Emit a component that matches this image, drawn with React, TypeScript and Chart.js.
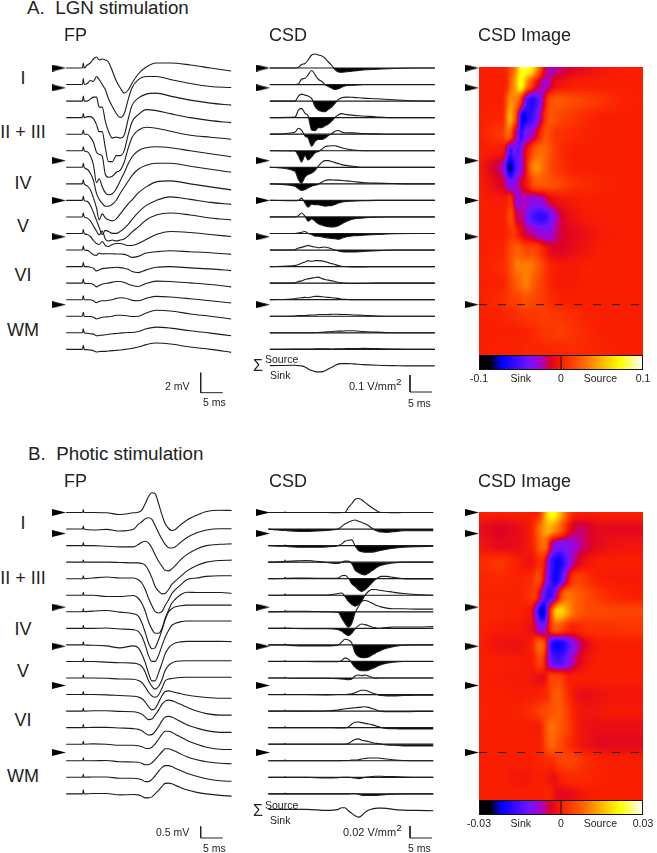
import React, { useEffect, useRef } from "react";
import { Chart, registerables } from "chart.js";

Chart.register(...registerables);

// ---------- DATA ----------
const layers = ["I", "II + III", "IV", "V", "VI", "WM"];
const arrowDepthsA = [0, 1.2, 5.6, 8, 10.2, 14.3];
const arrowDepthsB = [0, 1.27, 5.72, 8.08, 10.45, 14.5];

// A. field potential, unit 0.1 mV
const fpATimes = [-3.9, -0.2, 0, 0.2, 0.9, 1.6, 2.3, 3, 3.6, 4.3, 5, 5.7, 6.6, 7.5, 8.4, 9.3, 10.2, 11.1, 12.5, 14.3, 16.6, 19.8, 24.3, 28.9, 33.6];
const fpATraces = [
  [0, 0, 5, 0, 3, 5, 9, 11, 8, 9, 8, 6, -3, -13, -20, -25, -22, -15, -6, 1, 5, 5, 3, 0, -3],
  [0, 0, 6, 0, 1, 4, 3, 8, 5, 0, -5, -14, -22, -29, -33, -29, -15, -3, 5, 8, 8, 5, 1, -2, -3],
  [0, 0, 5, 0, 0, 2, 4, 4, -6, -6, -20, -30, -37, -36, -37, -34, -18, -4, 3, 7, 8, 5, 1, -2, -4],
  [0, 0, 4, 0, 1, 1, -1, -7, -14, -14, -30, -44, -44, -38, -38, -33, -17, -4, 3, 8, 7, 4, 0, -3, -5],
  [0, 0, 4, 0, 0, -3, -8, -18, -20, -22, -40, -43, -42, -38, -36, -28, -14, -3, 4, 7, 6, 3, -1, -3, -5],
  [0, 0, 4, 0, -1, -5, -14, -32, -28, -36, -42, -44, -43, -38, -30, -22, -13, -6, 0, 3, 4, 3, 0, -3, -6],
  [0, 0, 4, 0, -2, -6, -13, -26, -32, -36, -39, -39, -37, -33, -26, -20, -14, -8, -2, 2, 4, 4, 1, -2, -5],
  [0, 0, 4, 0, -2, -6, -14, -24, -36, -30, -34, -36, -37, -35, -30, -25, -20, -16, -9, -3, 2, 3, 0, -3, -6],
  [0, 0, 4, 0, -1, -5, -12, -20, -27, -34, -30, -31, -33, -33, -31, -28, -24, -19, -12, -5, 0, 3.5, 1, -2, -4],
  [0, 0, 4, 0, -1, -4, -9, -14, -18, -14, -22, -24, -23, -24, -23, -22, -19, -15, -10, -3, 2, 4, 2, -1, -3],
  [0, 0, 4, 0, -1, -3, -7, -10, -11, -8, -12, -13, -11, -10, -10, -11, -12, -12, -10, -6, -1, 2, 1, -1, -3],
  [0, 0, 4, 0, -0.3, -2.3, -4.7, -5.3, -3, -4, -3.7, -3.7, -3.7, -4, -4, -4.3, -5.7, -7.3, -6.3, -3, -1.7, -0.7, -1.7, -2.7, -4.3],
  [0, 0, 4, 0, 0, -0.7, -1.7, -4.3, -3.3, -2, -1.7, -1.3, -1, -0.7, -1, -1.7, -2.7, -5, -6, -3.3, -0.7, 0, -1.3, -2.3, -4],
  [0, 0, 4, 0, -0.3, -0.3, -1.3, -3.7, -2.3, -1, -0.3, 0, 1, 1.7, 1.7, 0.7, -1, -2.3, -3.3, -0.3, 2, 1.7, 0.3, -1.3, -3.7],
  [0, 0, 4, 0, 0, 0, -1, -3, -1.7, -1, -1, -0.5, 0, 1.3, 2, 1.7, 0.7, -0.7, -1, 1.3, 3.3, 2.7, 1, -1, -3.3],
  [0, 0, 4, 0, -0.3, -0.3, -1, -2.7, -2, -1, -0.7, -0.5, 0, 1, 1, 0.7, 0.3, -0.3, 0, 3.3, 6, 5.3, 2.3, 0, -2.7],
  [0, 0, 4, 0, -0.5, -1, -1.3, -3, -2.7, -2.3, -2, -1.5, -1, -0.7, -0.3, 0, 0.3, 0.3, 1.3, 4, 5.7, 4.7, 2, -0.3, -3],
  [0, 0, 4, 0, -0.3, -0.7, -1.3, -2.7, -2.3, -2, -2, -1.7, -1.3, -1, -0.7, 0, 0.3, 1, 2.3, 4.7, 6.3, 5.3, 2.3, 0, -3],
];

// A. current source density, unit 0.1/17 V/mm2
const csdATimes = [-3.9, 1.8, 2.6, 3.3, 4.1, 4.8, 5.6, 6.4, 7.1, 7.9, 8.6, 9.4, 10.2, 10.9, 11.7, 12.4, 13.6, 15.1, 17.3, 20.4, 24.2, 28.7, 33.6];
const csdATraces = [
  [0, 0, 0.7, 3.5, 4.5, 8, 13, 14, 13, 12, 10, 6, 2.5, -1.5, -4, -4.3, -3.7, -3, -2, -1.3, -0.5, 0, 0],
  [0, 0, 0.5, 5.3, 6.3, 9.7, 14, 9.7, 5.3, 3.3, 0, -2, -3.7, -5, -4.3, -2.7, -1, -0.7, 0, 0, 0, 0, 0],
  [0, 0, 5, 7, 6, 5, 2.7, -5.7, -9, -10.3, -10.7, -8.3, -5.7, -2.3, 1.7, 3.3, 4, 3.7, 3, 2.3, 1.3, 0.3, 0],
  [0, 0.5, 7.5, 9.3, 4.3, 1.7, -12.3, -13, -10, -10, -8.3, -6.3, -3.3, 0.3, 3, 4, 3, 2.3, 1.7, 0.7, 0, 0, 0],
  [0, 2, 6, 4, -2, -3.7, -12, -7, -5.3, -5.3, -4, -1.3, 0.7, 3, 3.7, 2.3, 1.3, 1.3, 0.7, 0.3, 0, 0, 0],
  [0, -0.3, -5, -11.3, -4.7, -9.3, -6, -2, -0.7, 1.3, 4, 4.7, 5, 5, 4, 3, 1.7, 0.7, 0, 0, 0, 0, 0],
  [0, -4, -12.3, -15.7, -9.7, -7.3, -5.7, -3, 1, 5, 6.7, 6.7, 5.7, 4.7, 3.7, 2.7, 1.7, 1, 0, 0, 0, 0, 0],
  [0, -2.3, -5, -6.7, -5.7, -4, -2.3, -1.3, -0.3, 1.7, 3.3, 4, 4, 3.7, 3.7, 3.3, 3, 2.3, 1.3, 0.7, 0.3, 0, 0],
  [0, -0.3, 0, 2.3, -2.7, -6.7, -3.7, -4.3, -4.3, -5, -5.7, -5.3, -5, -4, -2.7, -1.7, -1, -0.7, -0.3, 0, 0, 0, 0],
  [0, 0, 1.3, 4, 0.7, -4.3, -2, -4.3, -6.7, -8, -9, -9.7, -10, -9.7, -8.7, -7, -4.3, -2, -1, -0.3, 0, 0, 0],
  [0, 0, 0.5, 1.3, 2, 0, -1, -2.7, -2.7, -3.3, -4, -4.5, -5, -5.3, -5.7, -4.7, -3.3, -2.3, -1.7, -1, -0.3, 0, 0],
  [0, 0.3, 2, 2.7, 3.7, 4.7, 3.7, 3, 2.3, 2.7, 3, 2.3, 1, 0, -1, -1.7, -2, -2, -1.3, -0.7, 0, 0, 0],
  [0, 1, 2, 3.3, 4.7, 6, 5.3, 6, 6, 5.7, 5, 4, 3, 2, 1, 0.3, 0, -0.3, -0.3, 0, 0, 0, 0],
  [0, 0.3, 1.7, 2.3, 3.7, 4.3, 5, 5.7, 6, 4.7, 3.7, 3, 2.3, 1.7, 0.7, 0.3, -0.3, -0.3, -0.3, 0, 0, 0, 0],
  [0, 1, 1.7, 2, 2.3, 2, 2.7, 3.3, 3.3, 3, 2.7, 2.3, 2, 1.7, 1.3, 0.7, 0.3, 0, 0, 0, 0, 0, 0],
  [0, 0.3, 0.7, 0.7, 0.7, 1, 1.3, 1.3, 1.7, 1.7, 1.7, 1.7, 2, 2, 2, 1.7, 1.7, 1.3, 1, 0.3, 0, 0, 0],
  [0, 0, 0, 0, 0, 0, 0.1, 0.3, 0.3, 0.5, 0.7, 1, 1.3, 1.5, 1.7, 1.7, 2, 2, 1.3, 0.7, 0, 0, 0],
  [0, 0.3, 0.3, 0.3, 0.3, 0.3, 0.3, 0.5, 0.5, 0.5, 0.5, 0.5, 0.3, 0.5, 0.5, 0.5, 0.7, 0.7, 1, 0.7, 0.3, 0, 0],
];
const csdASum = [0.3, 0.7, 0.3, 0, -1, -3, -4.7, -5.7, -6, -6, -5, -3, -1.3, 0.3, 2, 2.3, 2.3, 2, 1.3, 0.7, 0.3, 0, 0];

// B. field potential, unit 0.5/11.5 mV
const fpBTimes = [-3.9, -0.15, 0, 0.15, 2.2, 5.3, 8.3, 11.4, 12.5, 13.3, 14.1, 14.8, 15.6, 16.3, 17.1, 17.9, 18.6, 19.4, 20.1, 20.9, 22, 23.5, 25.8, 28, 31.1, 33.7];
const fpBTraces = [
  [0, 0, 3, 0, 0, -0.3, -2, -0.3, 0.3, 2.3, 9, 15.7, 19.7, 19, 9, -2.7, -11, -16, -18, -17, -12.7, -7.7, -2.7, 1, 2.3, 2],
  [0, 0, 3, 0, -1, -0.3, -2, -0.3, 4.7, 7.3, 10.3, 11.3, 9.7, 3.7, -3.7, -10.3, -15.3, -18.7, -19, -17.7, -13.7, -8.7, -3.7, -1, 0.3, 0.3],
  [0, 0, 3, 0, 0, -0.7, -1.3, -1.3, 1, 3.3, 4.3, 2.7, -2.3, -9, -15.7, -20.7, -24.7, -25.3, -23.3, -20, -14.7, -9, -3.3, 0, 1.3, 1.7],
  [0, 0, 2, 0, 0, 0, -0.3, -0.7, -0.7, -1.3, -3.3, -8, -15.7, -24, -29, -31.7, -31.3, -27.3, -22.3, -19, -14.7, -9, -3.3, 0, 1.7, 2],
  [0, 0, 3, 0, 0.7, 1.7, 0.7, 0.7, -1, -4.3, -11, -19.3, -27, -32.7, -34.3, -32.7, -26.7, -21, -15, -11, -6.7, -1, 0.7, 2.3, 3, 3],
  [0, 0, 3, 0, 0, -1.3, -1.3, -0.3, -3, -8, -16.3, -26.3, -34, -38, -38, -33, -23, -14.7, -8, -4, 0.3, 3, 2.7, 2.7, 2.7, 2],
  [0, 0, 3, 0, 0.7, 1.3, -0.3, -2, -4.3, -11, -21, -31, -37, -36, -28, -18, -8, 0, 3, 5, 6, 6.7, 6.7, 6.7, 6.7, 6.7],
  [0, 0, 3, 0, 0, 0.3, -0.7, -1.3, -3, -8, -17, -27, -33, -33, -27, -17, -9, -2, 3, 5, 6.5, 7.3, 7.3, 7.3, 7.3, 7.3],
  [0, 0, 3, 0, -0.3, -1, -3, -1, -3, -9, -18, -28, -36, -36, -28, -18, -9, -3, 0, 2, 3, 3.5, 3.5, 3.5, 3.5, 3.3],
  [0, 0, 3, 0, 0, -0.7, -1.3, -1.7, -2.7, -5, -11, -19, -25, -27.7, -25, -18, -9, -4, -1.5, 0, 0.5, 0.7, 0.7, 0.7, 0.7, 0.7],
  [0, 0, 3, 0, 0, -0.3, -1, -1.3, -2.5, -4.5, -9, -14, -18, -19.3, -17, -10, -3, -1, -0.5, 0, 0.5, 0.7, 0.7, 0.7, 0.7, 0.7],
  [0, 0, 3, 0, 0, -0.3, -1, -1.7, -2.5, -4, -7.5, -12, -15.3, -14, -8, -1, 3, 3.7, 3, 2, 1, -0.5, -2, -3, -3.7, -3.7],
  [0, 0, 3, 0, 0.3, 0.3, -0.3, -0.7, -1.7, -3, -6, -8.5, -8, -4, 1, 7, 10, 11, 10.5, 9, 7, 4, 0, -2.5, -4, -4],
  [0, 0, 3, 0, 0.3, 0.3, -0.3, -1, -1.7, -3, -5.7, -7.3, -7, -4, 1, 7, 10.5, 11.3, 10.7, 9, 6.5, 3, -0.5, -3, -4.7, -4.7],
  [0, 0, 3, 0, 0.3, 0, -1, -1, -1.5, -2.5, -4, -4.3, -3, 0, 5, 10, 13, 13, 12, 10, 7.5, 4, 0, -3, -5, -5.3],
  [0, 0, 3, 0, 0, 0.3, -1, -1.2, -1.5, -2.5, -4, -4, -2, 1, 5, 9, 12, 12, 11, 9.5, 7, 4, 1, -1, -2.5, -3],
  [0, 0, 3, 0, 0.3, 0.3, -1, -1, -1.5, -2.5, -4.3, -4.3, -2, 1.5, 6, 10, 11.7, 11.7, 10.7, 9, 7, 4, 1, -1.5, -3.5, -4],
  [0, 0, 4, 0, 0.3, 0.3, -1, -0.7, -1, -2.5, -4, -4, -3, 0, 3.5, 7.5, 10.5, 10.7, 10, 8.5, 6.5, 4, 1.5, 0, -1.5, -2.3],
];

// B. current source density, unit 0.02/12 V/mm2
const csdBTimes = [-3.8, -0.08, 0, 0.08, 4.9, 9.5, 12.1, 12.9, 13.6, 14.4, 15.2, 15.9, 16.7, 17.4, 18.2, 19, 19.7, 20.5, 21.2, 22, 23.1, 24.6, 26.9, 29.9, 33.7];
const csdBTraces = [
  [0, 0, 0.8, 0, 0, 0, -0.3, 0, 0, 5, 9, 13, 14, 12.7, 10, 7.3, 5, 2.7, 0.7, 0, 0, -0.3, 0, 0, 0],
  [0, -1.3, 0, -1.3, -2.3, -1.3, 0, 2.7, 5, 6.7, 8.3, 9, 7.7, 6.7, 5.3, 3.3, 1, -1.3, -2.3, -3, -3.3, -2.7, -1.7, -1.7, -1.7],
  [0, -0.7, 0.8, -0.7, -1.7, -1.3, 0, 1.7, 4.3, 5.3, 5.7, 0, -5, -6, -6.7, -6.7, -6.7, -6, -5.3, -4.7, -3.7, -2.7, -1.7, -1, -0.7],
  [0, 0.8, 2, 0.8, 1.7, -0.3, -1.3, 0, 1, 1, -1.7, -7.7, -10.3, -12, -12.7, -11, -8.7, -6.3, -4.3, -3, -1.7, -0.7, 0, 0, 0],
  [0, 0.5, 1.5, 0.5, 0.7, 0.3, 0.7, 3, 3.3, 0.7, -5.3, -7.7, -11, -12.7, -11, -7.7, -4.3, -1, 1.3, 2.3, 2.3, 1.3, 0, -0.3, -0.3],
  [0, 0.3, 1.5, 0.3, 0.3, 0.3, 1.7, 2.3, -1, -6, -9.3, -11, -9.3, -6, 0, 4, 5.7, 5.7, 5.3, 4.7, 4, 3, 1.7, 0.7, 0],
  [0, 0.5, 1.5, 0.5, 0.5, 0, -0.7, -6.3, -11.3, -15.3, -11.3, -1.3, 5.3, 10.3, 11.3, 10.3, 8.7, 7, 5.7, 4.7, 3.7, 3, 3, 2.7, 2.7],
  [0, 0.3, 1.3, 0.3, -0.3, -0.3, -1.3, -3, -5.3, -7.3, -4.7, -0.7, 2.7, 4.3, 3.7, 2.7, 1.3, 0.7, 0, 0.3, 0.7, 1.3, 1.3, 1.3, 1.7],
  [0, 0, 1, 0, -1, -1, 0, 3, 5.7, 5, 1.7, -7.7, -11.7, -12.7, -12.7, -12, -10.3, -8.3, -6.7, -5, -3.3, -1.7, -0.3, 0, 0],
  [0, 0, 1, 0, 0, -0.3, -0.3, 1, 3.3, 2.3, -1.7, -5.7, -8.3, -9.3, -9.3, -8.7, -7.3, -6, -4.3, -3, -1.7, -0.7, 0, 0, 0],
  [0, 0, 1, 0, -0.3, -0.3, -0.7, -1, -1.3, -1.7, -1, 2, 3, 2.3, 3, 2, 0.7, -0.3, 0, 0, 0, 0, 0, 0, 0],
  [0, 0, 1, 0, 0, -0.3, 0, 0, 0, 0.3, 0.7, 1.7, 3.3, 4.3, 4.3, 3, 1.7, 0.7, -0.3, -1, -1.3, -1.3, -1, -0.7, -0.7],
  [0, 0.2, 1, 0.2, 0, 0.3, 1, 1.7, 2.3, 2.7, 3, 3.3, 3.7, 4, 4.3, 3.7, 2.7, 1.7, 0.3, -0.3, -0.7, -0.7, -0.7, -0.3, -0.3],
  [0, 0, 1, 0, 0, 0, -0.3, -0.3, -0.3, 0.7, 3.7, 5.3, 5.7, 5, 4.3, 3.7, 3, 2, 1, 0, -0.7, -1, -1.3, -1.3, -1.3],
  [0, 0, 1, 0, 0, 0, 0, 0, 0, 0.7, 3, 4.7, 5.3, 4, 3.3, 2.7, 1.7, 1, 0.7, 0, -0.7, -1, -1.7, -1.7, -1.7],
  [0, 0, 1, 0, 0, 0, 0, 0.3, 0.3, 0.3, 0.7, 0.7, 1, 1.7, 2.3, 2.7, 2.7, 2.7, 2.7, 2.3, 1.7, 1, 0.3, 0, 0],
  [0, 0, 0.8, 0, 0, -0.7, -0.3, 0, 0, 0, -0.3, -0.7, -1.3, -1, 0, 0.3, 0.7, 1, 1, 1, 0.7, 0.7, 0.3, 0, 0],
  [0, 0, 0.8, 0, 0, 0, 0, 0, 0, 0, 0.3, 0.3, -0.3, -1.3, -1.7, -1.7, -1.7, -1.7, -1.3, -1, -0.7, -0.3, 0, 0, 0],
];
const csdBSum = [1, 1, 1, 1, 1, 0, 1, 2.7, 2.7, -0.3, -3, -5.3, -6.7, -5.3, -2, 0.3, 1.3, 2, 2.3, 2.3, 2, 1, 0.3, 0, -0.3];

// Colour bar
const colorStops = [
  [-1, 0, 0, 0], [-0.87, 0, 0, 10], [-0.72, 0, 0, 255], [-0.4, 110, 20, 255], [-0.24, 170, 0, 200],
  [-0.13, 220, 0, 40], [0, 250, 30, 0], [0.27, 255, 100, 0], [0.52, 255, 190, 0], [0.72, 255, 255, 0], [1, 255, 255, 255],
];
const barLabelsA = ["-0.1", "Sink", "0", "Source", "0.1"];
const barLabelsB = ["-0.03", "Sink", "0", "Source", "0.03"];

// ---------- LAYOUT ----------
const PX_PER_MS = 4.4;
const ROW_PX = 16.55;
const INK = "#1c1c1c";
const FONT = '"Liberation Sans", Arial, sans-serif';

function colorFor(f: number) {
  const v = Math.max(-1, Math.min(1, f));
  for (let i = 1; i < colorStops.length; i++) {
    const a = colorStops[i - 1], b = colorStops[i];
    if (v <= b[0]) {
      const k = (v - a[0]) / (b[0] - a[0]);
      return [a[1] + (b[1] - a[1]) * k, a[2] + (b[2] - a[2]) * k, a[3] + (b[3] - a[3]) * k];
    }
  }
  return [255, 255, 255];
}

function makeArrow() {
  const c = document.createElement("canvas");
  c.width = 14;
  c.height = 7;
  const g = c.getContext("2d")!;
  g.fillStyle = "#000";
  g.beginPath();
  g.moveTo(0, 0);
  g.lineTo(14, 3.5);
  g.lineTo(0, 7);
  g.closePath();
  g.fill();
  return c;
}

type TraceCfg = {
  left: number; top: number; width: number; height: number;
  x0: number; y0: number; unit: number;
  times: number[]; traces: number[][]; sum?: number[]; csd: boolean;
  arrows: number[]; arrowX: number;
  barRight: number; barBottom: number; barValue: number;
};

function traceChart(cv: HTMLCanvasElement, c: TraceCfg) {
  const tOf = (px: number) => (px - c.x0) / PX_PER_MS;
  const vOf = (px: number) => (c.y0 - px) * c.unit;
  const rowVal = ROW_PX * c.unit;
  const line = { borderColor: INK, borderWidth: 1.1, pointRadius: 0, cubicInterpolationMode: "monotone", fill: false };
  const datasets: any[] = [];
  c.traces.forEach((tr, i) => {
    const base = -i * rowVal;
    const pts = c.times.map((t, k) => ({ x: t, y: base + tr[k] * c.unit }));
    if (c.csd) {
      datasets.push({ ...line, borderWidth: 1.2, data: [{ x: c.times[0], y: base }, { x: c.times[c.times.length - 1], y: base }] });
      datasets.push({ ...line, data: pts, fill: { target: { value: base }, above: "rgba(0,0,0,0)", below: "#000" } });
    } else {
      datasets.push({ ...line, data: pts });
    }
  });
  if (c.sum) {
    const base = -c.traces.length * rowVal;
    datasets.push({ ...line, data: c.times.map((t, k) => ({ x: t, y: base + c.sum![k] * c.unit })) });
  }
  datasets.push({
    data: c.arrows.map((d) => ({ x: tOf(c.arrowX), y: -d * rowVal })),
    showLine: false, pointStyle: makeArrow(), pointRadius: 4,
  });
  const tr = tOf(c.barRight), yb = vOf(c.barBottom);
  datasets.push({
    data: [{ x: tr - 5, y: yb + c.barValue }, { x: tr - 5, y: yb }, { x: tr, y: yb }],
    borderColor: "#222", borderWidth: 1, pointRadius: 0, fill: false,
  });
  return new Chart(cv, {
    type: "line",
    data: { datasets },
    options: {
      responsive: false, animation: false, events: [],
      layout: { autoPadding: false, padding: 0 },
      plugins: { legend: { display: false }, tooltip: { enabled: false } },
      scales: {
        x: { type: "linear", display: false, min: tOf(c.left), max: tOf(c.left + c.width) },
        y: { type: "linear", display: false, min: vOf(c.top + c.height), max: vOf(c.top) },
      },
    } as any,
  });
}

type HeatCfg = {
  left: number; top: number; width: number; height: number;
  imgLeft: number; imgRight: number; imgTop: number; imgBottom: number;
  y0: number; unit: number; range: number;
  times: number[]; traces: number[][]; tStart: number;
  arrows: number[]; arrowX: number; dashRow: number;
};

function heatChart(cv: HTMLCanvasElement, c: HeatCfg) {
  const tOf = (px: number) => c.tStart + (px - c.imgLeft) / PX_PER_MS;
  const rOf = (px: number) => (px - c.y0) / ROW_PX;
  const heat = {
    id: "heat",
    beforeDatasetsDraw(chart: any) {
      const { x, y } = chart.scales;
      const l = Math.round(x.getPixelForValue(tOf(c.imgLeft)));
      const r = Math.round(x.getPixelForValue(tOf(c.imgRight)));
      const t = Math.round(y.getPixelForValue(-rOf(c.imgTop)));
      const b = Math.round(y.getPixelForValue(-rOf(c.imgBottom)));
      const w = r - l, h = b - t;
      // every row resampled onto pixel columns
      const cols = c.traces.map((tr) => {
        const out = new Float32Array(w);
        let k = 0;
        for (let i = 0; i < w; i++) {
          const tv = x.getValueForPixel(l + i + 0.5);
          while (k < c.times.length - 2 && c.times[k + 1] < tv) k++;
          const f = Math.max(0, Math.min(1, (tv - c.times[k]) / (c.times[k + 1] - c.times[k])));
          out[i] = (tr[k] + (tr[k + 1] - tr[k]) * f) * c.unit;
        }
        const sm = new Float32Array(w);
        for (let i = 0; i < w; i++) {
          let s = 0, n = 0;
          for (let j = Math.max(0, i - 2); j <= Math.min(w - 1, i + 2); j++) { s += out[j]; n++; }
          sm[i] = s / n;
        }
        return sm;
      });
      const off = document.createElement("canvas");
      off.width = w; off.height = h;
      const og = off.getContext("2d")!;
      const img = og.createImageData(w, h);
      for (let py = 0; py < h; py++) {
        const row = Math.max(0, Math.min(c.traces.length - 1.001, -y.getValueForPixel(t + py + 0.5)));
        const i0 = Math.floor(row);
        let f = row - i0;
        f = f * f * (3 - 2 * f);
        for (let px = 0; px < w; px++) {
          const v = cols[i0][px] * (1 - f) + cols[i0 + 1][px] * f;
          const col = colorFor(v / c.range);
          const o = (py * w + px) * 4;
          img.data[o] = col[0]; img.data[o + 1] = col[1]; img.data[o + 2] = col[2]; img.data[o + 3] = 255;
        }
      }
      og.putImageData(img, 0, 0);
      chart.ctx.drawImage(off, l, t);
    },
  };
  const datasets: any[] = [
    {
      data: [{ x: tOf(c.imgLeft), y: -c.dashRow }, { x: tOf(c.imgRight), y: -c.dashRow }],
      borderColor: "#222", borderWidth: 1, borderDash: [8, 11], pointRadius: 0, fill: false,
    },
    { data: c.arrows.map((d) => ({ x: tOf(c.arrowX), y: -d })), showLine: false, pointStyle: makeArrow(), pointRadius: 4 },
  ];
  return new Chart(cv, {
    type: "line",
    data: { datasets },
    plugins: [heat],
    options: {
      responsive: false, animation: false, events: [],
      layout: { autoPadding: false, padding: 0 },
      plugins: { legend: { display: false }, tooltip: { enabled: false } },
      scales: {
        x: { type: "linear", display: false, min: tOf(c.left), max: tOf(c.left + c.width) },
        y: { type: "linear", display: false, min: -rOf(c.top + c.height), max: -rOf(c.top) },
      },
    } as any,
  });
}

function barChart(cv: HTMLCanvasElement, range: number, labels: string[]) {
  const ticks = [-range, -range * 0.49, 0, range * 0.48, range];
  const bar = {
    id: "bar",
    beforeDatasetsDraw(chart: any) {
      const { left, right, top, bottom } = chart.chartArea;
      const g = chart.ctx;
      const xs = chart.scales.x;
      for (let px = Math.round(left); px < Math.round(right); px++) {
        const col = colorFor(xs.getValueForPixel(px + 0.5) / range);
        g.fillStyle = `rgb(${col[0]},${col[1]},${col[2]})`;
        g.fillRect(px, top, 1, bottom - top);
      }
      g.strokeStyle = "#111";
      g.lineWidth = 1;
      g.strokeRect(Math.round(left) + 0.5, Math.round(top) + 0.5, Math.round(right - left) - 1, Math.round(bottom - top) - 1);
    },
  };
  return new Chart(cv, {
    type: "line",
    data: { datasets: [{ data: [{ x: 0, y: 0 }, { x: 0, y: 1 }], borderColor: "#111", borderWidth: 1, pointRadius: 0 }] },
    plugins: [bar],
    options: {
      responsive: false, animation: false, events: [],
      layout: { autoPadding: false, padding: { left: 20, right: 20, top: 0, bottom: 0 } },
      plugins: { legend: { display: false }, tooltip: { enabled: false } },
      scales: {
        x: {
          type: "linear", min: -range, max: range,
          grid: { display: false, drawTicks: false }, border: { display: false },
          afterBuildTicks: (s: any) => { s.ticks = ticks.map((value) => ({ value })); },
          afterFit: (s: any) => { s.height = 17; },
          ticks: {
            autoSkip: false, maxRotation: 0, minRotation: 0, padding: 3, color: "#222",
            font: { family: FONT, size: 10.5 },
            callback: (_v: any, i: number) => labels[i],
          },
        },
        y: { type: "linear", display: false, min: 0, max: 1 },
      },
    } as any,
  });
}

const texts: [string, number, number, number, string?][] = [
  ["A.  LGN stimulation", 27, 8, 18.8],
  ["FP", 64, 35, 18], ["CSD", 269, 35, 18], ["CSD Image", 478, 35, 18],
  ["2 mV", 165, 386, 10.5], ["5 ms", 203, 402, 10.5],
  ["Source", 265, 359, 10.5], ["Sink", 270, 375, 10.5], ["Σ", 253, 366, 16],
  ["0.1 V/mm", 349, 386, 11, "2"], ["5 ms", 408, 403, 10.5],
  ["B.  Photic stimulation", 28, 454, 18.8],
  ["FP", 64, 481, 18], ["CSD", 269, 481, 18], ["CSD Image", 478, 481, 18],
  ["0.5 mV", 156, 832, 10.5], ["5 ms", 203, 848, 10.5],
  ["Source", 265, 805, 10.5], ["Sink", 270, 820, 10.5], ["Σ", 253, 811, 16],
  ["0.02 V/mm", 343, 832, 11, "2"], ["5 ms", 408, 848, 10.5],
];
const layerYA = [78, 132, 183, 226, 275, 330];
const layerYB = [523, 578, 629, 671, 720, 776];

const rects = {
  fpA: { left: 50, top: 45, width: 185, height: 352 },
  csdA: { left: 253, top: 45, width: 186, height: 352 },
  heatA: { left: 463, top: 60, width: 182, height: 296 },
  barA: { left: 459, top: 355, width: 204, height: 32 },
  fpB: { left: 50, top: 490, width: 185, height: 352 },
  csdB: { left: 253, top: 490, width: 186, height: 352 },
  heatB: { left: 463, top: 505, width: 182, height: 296 },
  barB: { left: 459, top: 800, width: 204, height: 32 },
};

export default function App() {
  const refs = useRef<Record<string, HTMLCanvasElement | null>>({});
  useEffect(() => {
    const R = refs.current as any;
    const unitFpA = 0.1, unitFpB = 0.5 / 11.5, unitCsdA = 0.1 / 17, unitCsdB = 0.02 / 12;
    const charts = [
      traceChart(R.fpA, { ...rects.fpA, x0: 83.3, y0: 68, unit: unitFpA, times: fpATimes, traces: fpATraces, csd: false, arrows: arrowDepthsA, arrowX: 59, barRight: 222.7, barBottom: 392.7, barValue: 2 }),
      traceChart(R.csdA, { ...rects.csdA, x0: 287, y0: 68, unit: unitCsdA, times: csdATimes, traces: csdATraces, sum: csdASum, csd: true, arrows: arrowDepthsA, arrowX: 263, barRight: 432, barBottom: 392, barValue: 0.1 }),
      heatChart(R.heatA, { ...rects.heatA, imgLeft: 479, imgRight: 643, imgTop: 67.5, imgBottom: 355, y0: 68, unit: unitCsdA, range: 0.1, times: csdATimes, traces: csdATraces, tStart: -3.9, arrows: arrowDepthsA, arrowX: 472, dashRow: 14.3 }),
      barChart(R.barA, 0.1, barLabelsA),
      traceChart(R.fpB, { ...rects.fpB, x0: 83.3, y0: 512.5, unit: unitFpB, times: fpBTimes, traces: fpBTraces, csd: false, arrows: arrowDepthsB, arrowX: 59, barRight: 222.7, barBottom: 838, barValue: 0.5 }),
      traceChart(R.csdB, { ...rects.csdB, x0: 285, y0: 512.5, unit: unitCsdB, times: csdBTimes, traces: csdBTraces, sum: csdBSum, csd: true, arrows: arrowDepthsB, arrowX: 263, barRight: 432, barBottom: 838, barValue: 0.02 }),
      heatChart(R.heatB, { ...rects.heatB, imgLeft: 479, imgRight: 643, imgTop: 512.5, imgBottom: 800, y0: 512.5, unit: unitCsdB, range: 0.03, times: csdBTimes, traces: csdBTraces, tStart: 0, arrows: arrowDepthsB, arrowX: 472, dashRow: 14.5 }),
      barChart(R.barB, 0.03, barLabelsB),
    ];
    return () => charts.forEach((c) => c.destroy());
  }, []);

  const label = (t: string, x: number, y: number, size: number, sup?: string, center?: boolean, key?: string) => (
    <div key={key} style={{
      position: "absolute", left: x, top: y, fontSize: size, lineHeight: 1, whiteSpace: "pre",
      color: "#222", transform: center ? "translate(-50%,-50%)" : "translateY(-50%)",
    }}>
      {t}{sup ? <sup style={{ fontSize: size * 0.9, lineHeight: 0 }}>{sup}</sup> : null}
    </div>
  );

  return (
    <div style={{ position: "absolute", left: 0, top: 0, width: 657, height: 853, overflow: "hidden", background: "#fff", fontFamily: FONT }}>
      {Object.entries(rects).map(([k, r]) => (
        <canvas key={k} ref={(el) => { refs.current[k] = el; }} width={r.width} height={r.height}
          style={{ position: "absolute", left: r.left, top: r.top, width: r.width, height: r.height, filter: "blur(0.3px)" }} />
      ))}
      {texts.map((t, i) => label(t[0], t[1], t[2], t[3], t[4], false, "t" + i))}
      {layers.map((t, i) => label(t, 23, layerYA[i], 18, undefined, true, "a" + i))}
      {layers.map((t, i) => label(t, 23, layerYB[i], 18, undefined, true, "b" + i))}
    </div>
  );
}
